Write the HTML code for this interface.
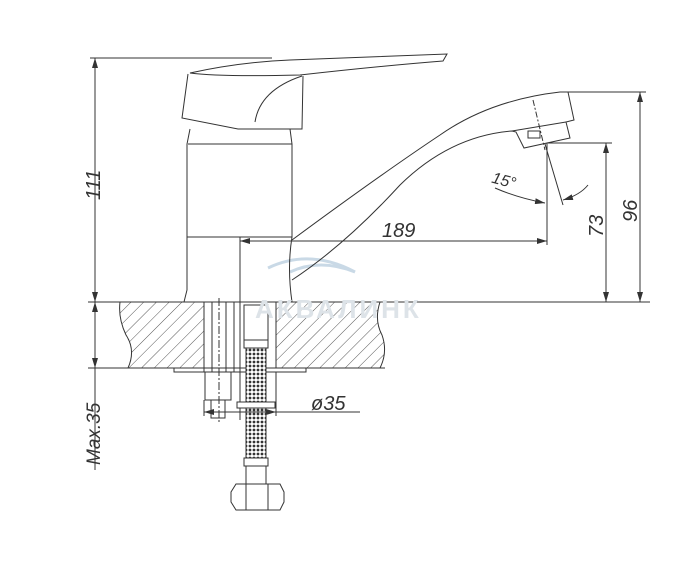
<!DOCTYPE html>
<html><head><meta charset="utf-8"><style>
html,body{margin:0;padding:0;background:#fff;}
svg{display:block;}
text{font-family:"Liberation Sans",sans-serif;font-style:italic;fill:#333;}
</style></head><body>
<svg width="700" height="570" viewBox="0 0 700 570" xmlns="http://www.w3.org/2000/svg">
<defs>
<pattern id="h" width="9" height="9" patternUnits="userSpaceOnUse" patternTransform="rotate(45)">
<line x1="0" y1="0" x2="0" y2="9" stroke="#444" stroke-width="0.9"/>
</pattern>
<pattern id="m" width="4" height="4" patternUnits="userSpaceOnUse">
<rect width="4" height="4" fill="#fff"/><circle cx="2" cy="2" r="1.4" fill="#333"/>
</pattern>
<marker id="a" viewBox="0 0 10 6" refX="10" refY="3" markerWidth="10" markerHeight="6" orient="auto-start-reverse" markerUnits="userSpaceOnUse">
<path d="M0,0 L10,3 L0,6 Z" fill="#333"/>
</marker>
</defs>
<g fill="none" stroke="#333" stroke-width="1">
<path d="M268,268 Q310,248 355,272 Q320,258 290,272" stroke="#c9d9e6" stroke-width="3"/>
<line x1="90" y1="58" x2="272" y2="58"/>
<line x1="88" y1="302" x2="650" y2="302"/>
<line x1="88" y1="368" x2="385" y2="368"/>
<line x1="565" y1="92" x2="646" y2="92"/>
<line x1="548" y1="143" x2="612" y2="143"/>
<line x1="95" y1="58" x2="95" y2="302" marker-start="url(#a)" marker-end="url(#a)"/>
<line x1="95" y1="302" x2="95" y2="368" marker-start="url(#a)" marker-end="url(#a)"/>
<line x1="95" y1="368" x2="95" y2="470"/>
<line x1="606" y1="143" x2="606" y2="302" marker-start="url(#a)" marker-end="url(#a)"/>
<line x1="640" y1="92" x2="640" y2="302" marker-start="url(#a)" marker-end="url(#a)"/>
<line x1="240" y1="241" x2="547" y2="241" marker-start="url(#a)" marker-end="url(#a)"/>
<line x1="547" y1="143" x2="547" y2="245"/>
<line x1="545" y1="144" x2="563" y2="205"/>
<path d="M495,188 Q518,198 545,203" marker-end="url(#a)"/>
<path d="M588,185 Q580,195 563,200" marker-end="url(#a)"/>
<path d="M120,302 H204 V368 H128 Q136,350 126,335 Q118,318 120,302 Z" fill="url(#h)"/>
<path d="M276,302 H380 Q374,320 382,335 Q388,352 380,368 H276 Z" fill="url(#h)"/>
<rect x="174" y="368" width="132" height="4"/>
<path d="M190,73 Q240,62 290,60 L447,54 L443,61 Q380,66 300,75 Q220,77 190,73 Z" fill="#fff"/>
<path d="M188,74 L182,118 L238,129 L302,129 L303,76"/>
<path d="M255,122 Q260,90 302,76"/>
<path d="M190,129 L187,144 L187,290 L184,302"/>
<path d="M290,129 L292,144 L292,237 Q287,268 292,302"/>
<line x1="188" y1="144" x2="292" y2="144"/>
<line x1="187" y1="237" x2="292" y2="237"/>
<line x1="240" y1="237" x2="240" y2="420"/>
<path d="M292,240 Q380,175 440,135 Q490,100 560,92 L568,92 L574,120 L566,122 L570,138 L524,148 L516,132 L512,131 Q450,136 400,185 Q345,245 292,280"/>
<line x1="512" y1="131" x2="566" y2="122"/>
<rect x="528" y="131" width="12" height="7"/>
<line x1="533" y1="100" x2="545" y2="150" stroke-dasharray="6 2 2 2"/>
<rect x="204" y="302" width="30" height="70"/>
<line x1="212" y1="302" x2="212" y2="372"/>
<line x1="226" y1="302" x2="226" y2="372"/>
<rect x="205" y="372" width="26" height="28"/>
<rect x="211" y="400" width="14" height="18"/>
<line x1="219" y1="298" x2="219" y2="424" stroke-dasharray="8 2 2 2"/>
<rect x="244" y="305" width="24" height="35" fill="#fff"/>
<rect x="244" y="340" width="24" height="8"/>
<rect x="246" y="348" width="20" height="110" fill="url(#m)"/>
<rect x="237" y="402" width="38" height="6" fill="#fff"/>
<rect x="244" y="458" width="24" height="8"/>
<rect x="246" y="466" width="20" height="18"/>
<path d="M236,484 H280 L284,492 V502 L280,510 H236 L231,502 V492 Z"/>
<line x1="246" y1="484" x2="246" y2="510"/><line x1="268" y1="484" x2="268" y2="510"/>
<line x1="204" y1="412" x2="276" y2="412" marker-start="url(#a)" marker-end="url(#a)"/>
<line x1="276" y1="412" x2="360" y2="412"/>
<line x1="276" y1="372" x2="276" y2="416"/>
<line x1="204" y1="400" x2="204" y2="416"/>
</g>
<text x="255" y="318" font-size="26" style="fill:#dde3e8;font-style:normal;font-weight:bold" letter-spacing="3">АКВАЛИНК</text>
<text transform="translate(100,200) rotate(-90)" font-size="20">111</text>
<text transform="translate(100,465) rotate(-90)" font-size="19">Max.35</text>
<text x="382" y="237" font-size="20">189</text>
<text x="311" y="410" font-size="20">ø35</text>
<text x="492" y="186" font-size="16" transform="rotate(15 505 180)">15°</text>
<text transform="translate(603,237) rotate(-90)" font-size="20">73</text>
<text transform="translate(637,222) rotate(-90)" font-size="20">96</text>
</svg>
</body></html>
